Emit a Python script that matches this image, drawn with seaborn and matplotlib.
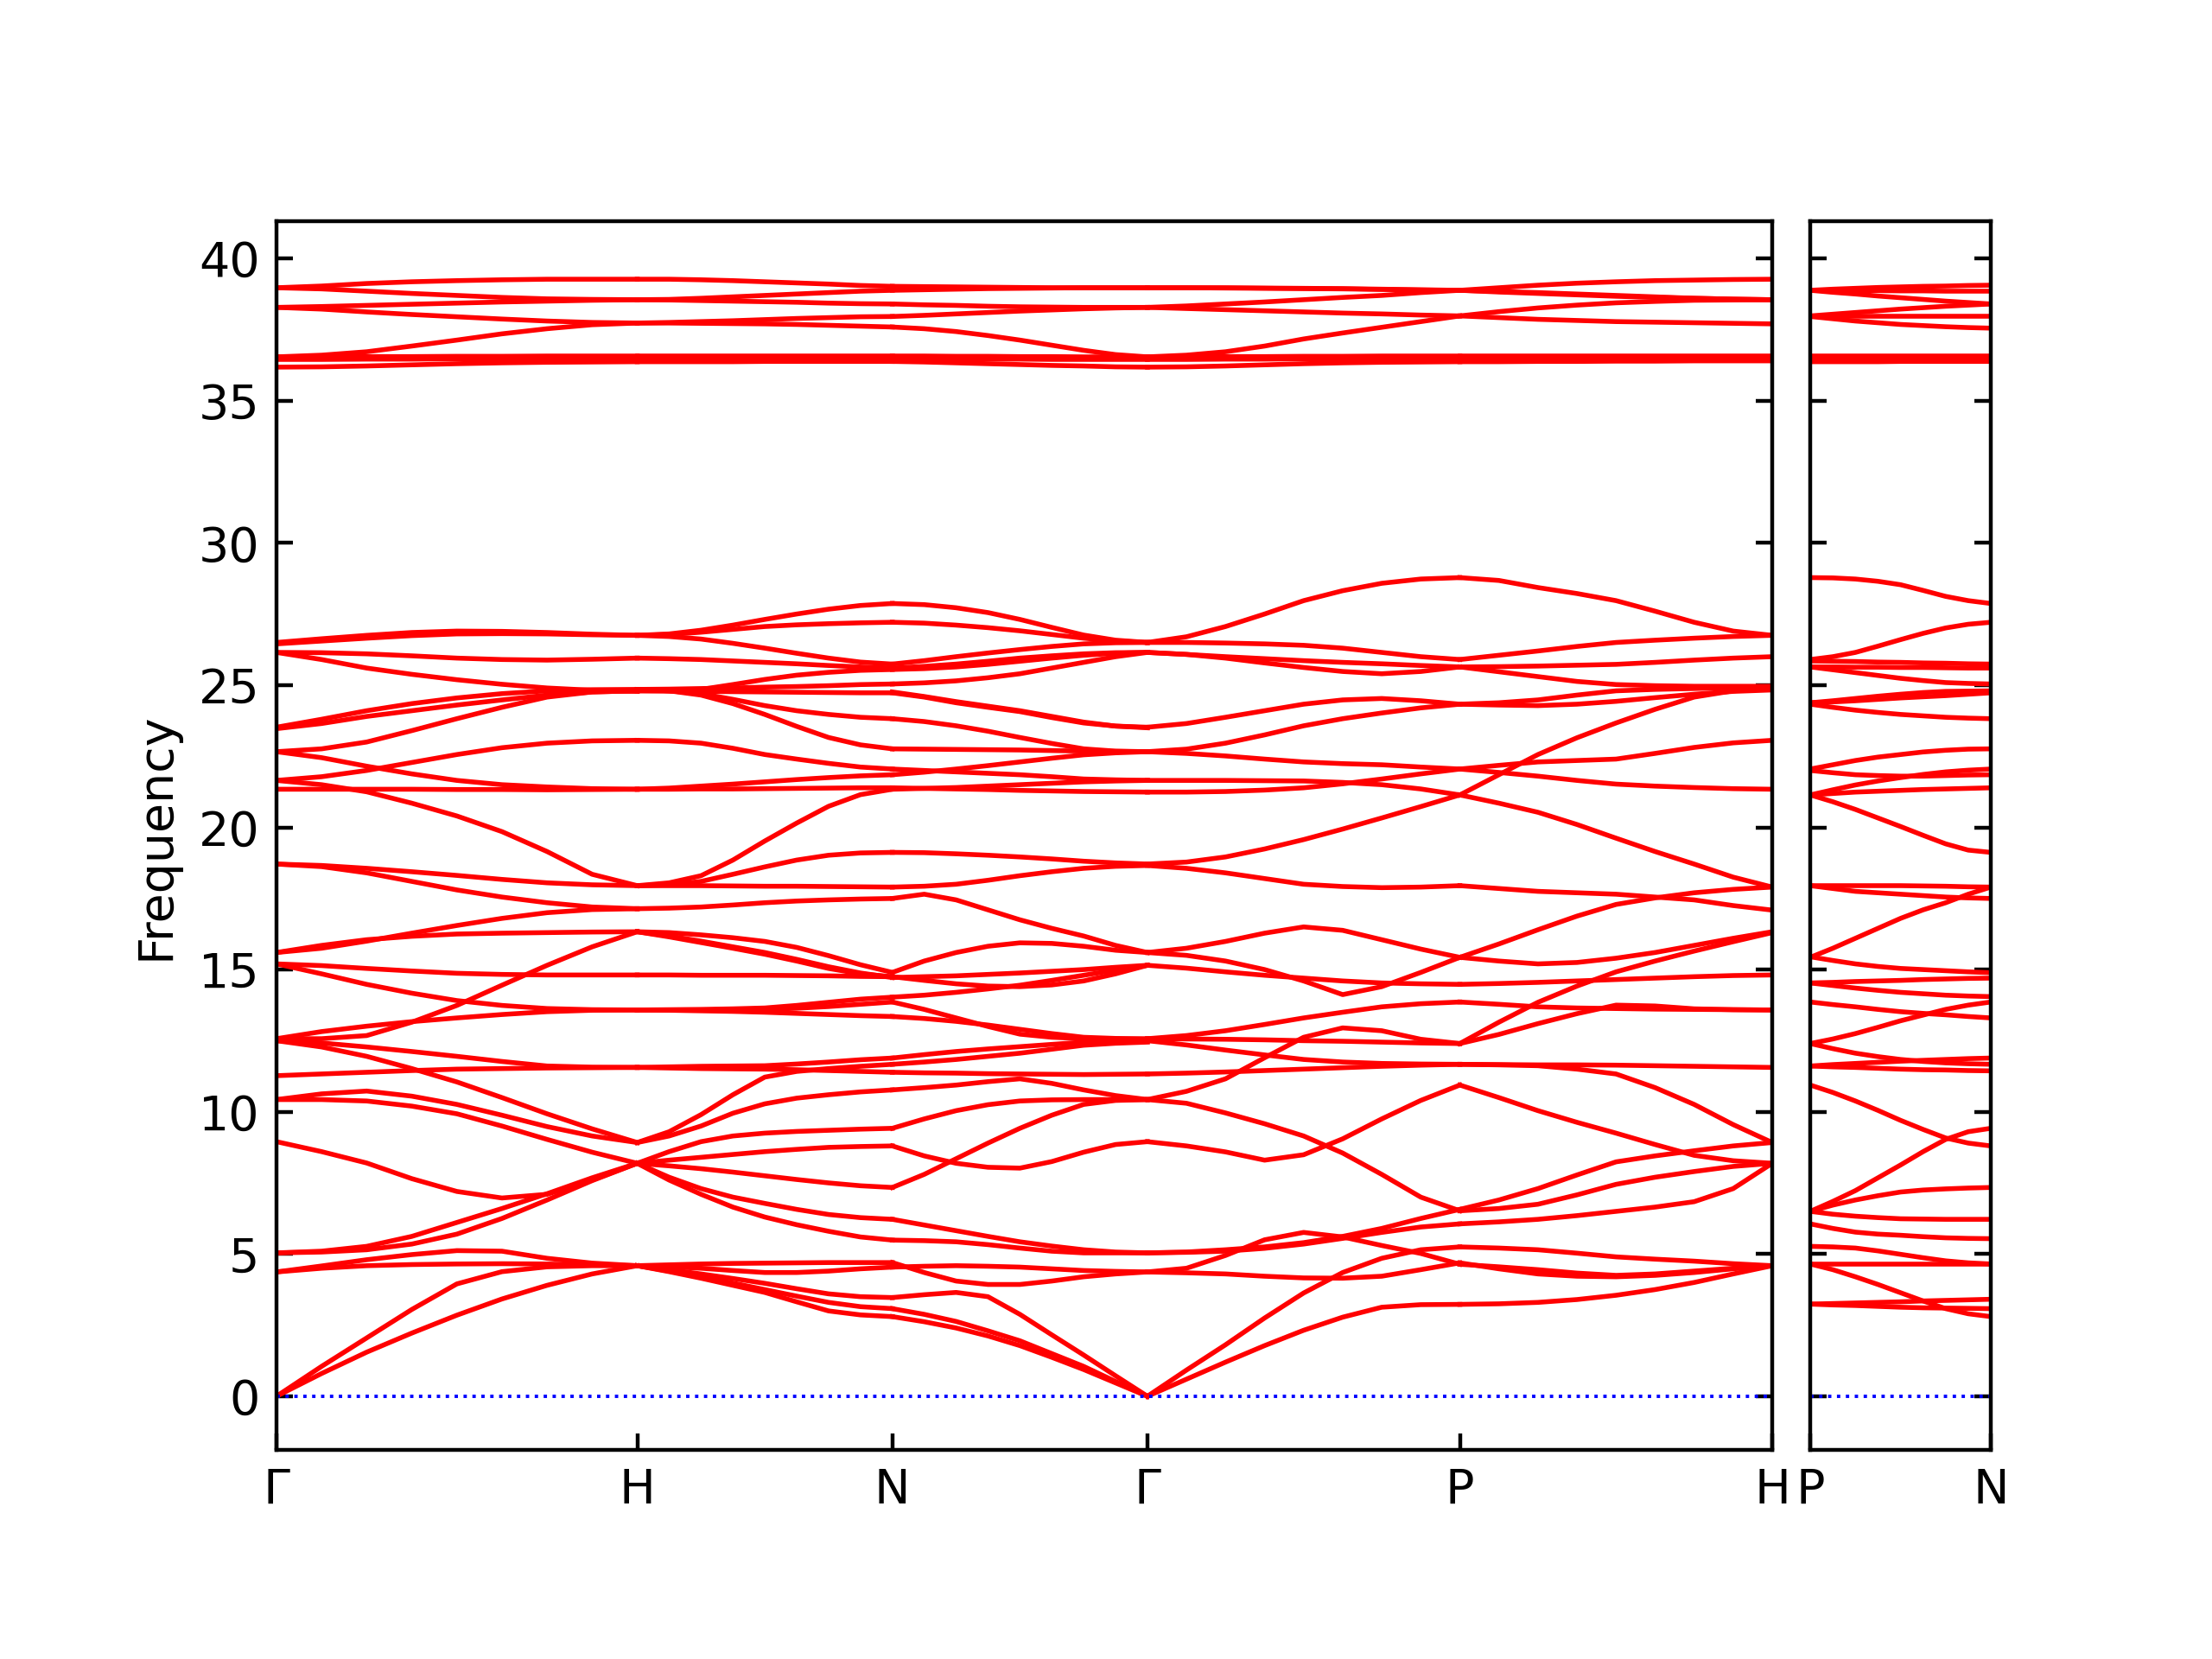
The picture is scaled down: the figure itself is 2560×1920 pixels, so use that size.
import pandas as pd
import seaborn as sns
import matplotlib
matplotlib.use("Agg")
import matplotlib.pyplot as plt

# k-path: segment lengths (2pi/a units) and labels
main_seg_len = [1.0, 0.7071, 0.7071, 0.8660, 0.8660]
main_labels = ['Γ', 'H', 'N', 'Γ', 'P', 'H']
side_seg_len = [0.5]
side_labels = ['P', 'N']

# fractional positions along each segment where the bands were read
kfrac = [0.0, 0.125, 0.25, 0.375, 0.5, 0.625, 0.75, 0.875, 1.0]

# band frequencies along Gamma -> H
gamma_h = [
    [38.97, 39.03, 39.12, 39.18, 39.22, 39.25, 39.27, 39.27, 39.27],
    [38.97, 38.93, 38.85, 38.77, 38.70, 38.63, 38.58, 38.56, 38.55],
    [38.28, 38.31, 38.35, 38.39, 38.43, 38.47, 38.50, 38.53, 38.55],
    [38.28, 38.22, 38.12, 38.03, 37.95, 37.87, 37.80, 37.75, 37.73],
    [36.54, 36.60, 36.72, 36.92, 37.13, 37.35, 37.53, 37.67, 37.73],
    [36.54, 36.54, 36.55, 36.55, 36.56, 36.56, 36.57, 36.57, 36.57],
    [36.45, 36.45, 36.46, 36.46, 36.47, 36.47, 36.47, 36.47, 36.47],
    [36.18, 36.19, 36.22, 36.26, 36.30, 36.33, 36.35, 36.36, 36.37],
    [26.50, 26.63, 26.75, 26.85, 26.90, 26.89, 26.85, 26.79, 26.75],
    [26.45, 26.55, 26.65, 26.74, 26.80, 26.81, 26.80, 26.77, 26.75],
    [26.15, 26.14, 26.10, 26.03, 25.95, 25.90, 25.88, 25.91, 25.95],
    [26.15, 25.90, 25.60, 25.38, 25.19, 25.03, 24.90, 24.82, 24.78],
    [23.52, 23.80, 24.10, 24.35, 24.55, 24.70, 24.80, 24.84, 24.85],
    [23.47, 23.65, 23.90, 24.10, 24.30, 24.48, 24.65, 24.76, 24.80],
    [22.66, 22.76, 23.00, 23.40, 23.82, 24.22, 24.58, 24.76, 24.80],
    [22.66, 22.45, 22.15, 21.88, 21.65, 21.50, 21.42, 21.36, 21.34],
    [21.65, 21.78, 22.00, 22.28, 22.56, 22.80, 22.96, 23.04, 23.06],
    [21.65, 21.50, 21.25, 20.85, 20.40, 19.85, 19.15, 18.35, 17.95],
    [21.34, 21.34, 21.34, 21.34, 21.33, 21.33, 21.32, 21.33, 21.34],
    [18.71, 18.66, 18.56, 18.44, 18.31, 18.17, 18.05, 17.98, 17.95],
    [18.71, 18.62, 18.40, 18.10, 17.80, 17.55, 17.35, 17.20, 17.14],
    [15.60, 15.75, 16.00, 16.28, 16.55, 16.80, 17.00, 17.11, 17.14],
    [15.60, 15.85, 16.05, 16.17, 16.25, 16.28, 16.30, 16.32, 16.33],
    [15.20, 15.14, 15.04, 14.95, 14.87, 14.83, 14.81, 14.81, 14.81],
    [15.20, 14.85, 14.48, 14.17, 13.91, 13.74, 13.63, 13.59, 13.58],
    [12.57, 12.57, 12.68, 13.15, 13.74, 14.45, 15.15, 15.80, 16.33],
    [12.57, 12.82, 13.01, 13.17, 13.30, 13.42, 13.52, 13.57, 13.58],
    [12.50, 12.42, 12.28, 12.12, 11.95, 11.77, 11.61, 11.57, 11.56],
    [12.50, 12.28, 11.95, 11.52, 11.05, 10.50, 9.93, 9.40, 8.92],
    [11.27, 11.33, 11.39, 11.45, 11.50, 11.52, 11.54, 11.55, 11.56],
    [10.43, 10.63, 10.73, 10.55, 10.26, 9.88, 9.48, 9.15, 8.92],
    [10.43, 10.43, 10.38, 10.20, 9.93, 9.50, 9.03, 8.58, 8.19],
    [8.95, 8.60, 8.20, 7.65, 7.20, 6.97, 7.10, 7.60, 8.19],
    [5.04, 5.10, 5.27, 5.62, 6.11, 6.60, 7.12, 7.68, 8.19],
    [5.04, 5.07, 5.15, 5.35, 5.70, 6.25, 6.90, 7.58, 8.19],
    [4.37, 4.58, 4.80, 4.98, 5.12, 5.10, 4.85, 4.68, 4.59],
    [4.37, 4.50, 4.59, 4.63, 4.65, 4.66, 4.65, 4.62, 4.59],
    [0.00, 1.05, 2.05, 3.05, 3.95, 4.38, 4.55, 4.59, 4.59],
    [0.00, 0.80, 1.55, 2.22, 2.85, 3.42, 3.90, 4.30, 4.59],
]

# H -> N
h_n = [
    [39.27, 39.27, 39.25, 39.22, 39.18, 39.14, 39.10, 39.05, 39.02],
    [38.55, 38.56, 38.60, 38.65, 38.70, 38.75, 38.80, 38.85, 38.88],
    [38.55, 38.54, 38.52, 38.50, 38.48, 38.46, 38.43, 38.41, 38.40],
    [37.73, 37.75, 37.78, 37.81, 37.85, 37.89, 37.92, 37.95, 37.96],
    [37.73, 37.73, 37.72, 37.71, 37.70, 37.68, 37.65, 37.62, 37.59],
    [36.57, 36.57, 36.57, 36.57, 36.57, 36.57, 36.57, 36.57, 36.57],
    [36.47, 36.47, 36.47, 36.47, 36.47, 36.47, 36.47, 36.47, 36.47],
    [36.37, 36.37, 36.37, 36.37, 36.38, 36.38, 36.38, 36.38, 36.38],
    [26.75, 26.80, 26.93, 27.11, 27.31, 27.50, 27.67, 27.80, 27.87],
    [26.75, 26.78, 26.86, 26.96, 27.06, 27.12, 27.16, 27.19, 27.21],
    [26.75, 26.71, 26.62, 26.47, 26.30, 26.12, 25.95, 25.81, 25.74],
    [25.95, 25.93, 25.90, 25.85, 25.80, 25.75, 25.69, 25.64, 25.60],
    [24.80, 24.80, 24.85, 25.02, 25.20, 25.35, 25.45, 25.52, 25.55],
    [24.85, 24.86, 24.88, 24.90, 24.93, 24.95, 24.98, 25.02, 25.04],
    [24.80, 24.79, 24.78, 24.77, 24.76, 24.75, 24.74, 24.73, 24.73],
    [24.85, 24.80, 24.70, 24.50, 24.28, 24.10, 23.97, 23.87, 23.82],
    [24.85, 24.80, 24.65, 24.35, 23.97, 23.55, 23.16, 22.90, 22.76],
    [23.06, 23.04, 22.96, 22.78, 22.56, 22.40, 22.25, 22.12, 22.05],
    [21.34, 21.38, 21.45, 21.52, 21.60, 21.68, 21.75, 21.81, 21.85],
    [21.34, 21.34, 21.35, 21.35, 21.36, 21.37, 21.38, 21.39, 21.39],
    [17.95, 18.05, 18.30, 18.85, 19.52, 20.15, 20.74, 21.15, 21.34],
    [17.95, 17.98, 18.10, 18.35, 18.61, 18.85, 19.02, 19.10, 19.12],
    [17.95, 17.95, 17.95, 17.94, 17.93, 17.93, 17.92, 17.91, 17.90],
    [17.14, 17.16, 17.20, 17.27, 17.35, 17.41, 17.45, 17.48, 17.50],
    [16.33, 16.30, 16.22, 16.12, 15.99, 15.78, 15.49, 15.17, 14.90],
    [16.33, 16.15, 15.95, 15.75, 15.54, 15.30, 15.04, 14.85, 14.75],
    [16.33, 16.18, 16.00, 15.80, 15.60, 15.36, 15.10, 14.88, 14.72],
    [14.81, 14.81, 14.80, 14.80, 14.80, 14.79, 14.78, 14.76, 14.75],
    [13.58, 13.59, 13.60, 13.62, 13.65, 13.74, 13.85, 13.96, 14.03],
    [13.58, 13.57, 13.55, 13.53, 13.50, 13.46, 13.42, 13.38, 13.35],
    [13.58, 13.58, 13.58, 13.59, 13.60, 13.64, 13.70, 13.78, 13.86],
    [11.56, 11.58, 11.60, 11.61, 11.62, 11.68, 11.75, 11.83, 11.89],
    [11.56, 11.54, 11.52, 11.51, 11.50, 11.48, 11.45, 11.42, 11.39],
    [8.92, 9.30, 9.90, 10.60, 11.22, 11.42, 11.52, 11.60, 11.67],
    [8.92, 9.15, 9.50, 9.95, 10.28, 10.48, 10.60, 10.70, 10.77],
    [8.19, 8.60, 8.95, 9.15, 9.25, 9.31, 9.35, 9.39, 9.42],
    [8.19, 8.30, 8.40, 8.50, 8.60, 8.68, 8.75, 8.78, 8.80],
    [8.19, 8.10, 8.00, 7.88, 7.75, 7.62, 7.50, 7.40, 7.34],
    [8.19, 7.70, 7.30, 7.00, 6.78, 6.57, 6.39, 6.28, 6.22],
    [8.19, 7.60, 7.10, 6.65, 6.30, 6.03, 5.80, 5.60, 5.49],
    [4.59, 4.62, 4.65, 4.67, 4.68, 4.69, 4.70, 4.70, 4.70],
    [4.59, 4.55, 4.50, 4.42, 4.35, 4.35, 4.40, 4.48, 4.54],
    [4.59, 4.45, 4.30, 4.14, 3.97, 3.78, 3.60, 3.50, 3.47],
    [4.59, 4.40, 4.20, 3.98, 3.75, 3.52, 3.30, 3.15, 3.08],
    [4.59, 4.38, 4.15, 3.90, 3.65, 3.32, 3.00, 2.86, 2.80],
]

# N -> Gamma
n_gamma = [
    [39.02, 39.01, 39.00, 38.99, 38.98, 38.97, 38.97, 38.97, 38.97],
    [38.88, 38.90, 38.92, 38.94, 38.95, 38.96, 38.97, 38.97, 38.97],
    [38.40, 38.37, 38.35, 38.32, 38.30, 38.29, 38.28, 38.28, 38.28],
    [37.96, 38.00, 38.05, 38.10, 38.15, 38.19, 38.23, 38.26, 38.28],
    [37.59, 37.53, 37.43, 37.29, 37.13, 36.95, 36.77, 36.62, 36.54],
    [36.57, 36.57, 36.56, 36.56, 36.55, 36.55, 36.54, 36.54, 36.54],
    [36.47, 36.47, 36.46, 36.46, 36.46, 36.45, 36.45, 36.45, 36.45],
    [36.38, 36.36, 36.33, 36.30, 36.27, 36.24, 36.22, 36.19, 36.18],
    [27.87, 27.83, 27.72, 27.55, 27.31, 27.03, 26.76, 26.58, 26.50],
    [27.21, 27.18, 27.11, 27.02, 26.91, 26.78, 26.65, 26.55, 26.50],
    [25.74, 25.86, 26.00, 26.13, 26.25, 26.36, 26.45, 26.49, 26.50],
    [25.60, 25.66, 25.74, 25.84, 25.95, 26.03, 26.10, 26.14, 26.15],
    [25.55, 25.58, 25.64, 25.73, 25.84, 25.95, 26.05, 26.12, 26.15],
    [25.04, 25.08, 25.15, 25.26, 25.40, 25.60, 25.80, 26.00, 26.15],
    [24.73, 24.58, 24.38, 24.22, 24.07, 23.86, 23.67, 23.56, 23.52],
    [24.76, 24.60, 24.42, 24.26, 24.10, 23.90, 23.70, 23.56, 23.50],
    [23.82, 23.72, 23.57, 23.38, 23.16, 22.95, 22.76, 22.68, 22.66],
    [22.76, 22.75, 22.74, 22.73, 22.72, 22.70, 22.68, 22.67, 22.66],
    [22.05, 22.00, 21.95, 21.90, 21.85, 21.78, 21.70, 21.67, 21.65],
    [21.85, 21.94, 22.05, 22.17, 22.30, 22.43, 22.55, 22.62, 22.66],
    [21.39, 21.37, 21.35, 21.33, 21.30, 21.28, 21.26, 21.25, 21.24],
    [21.34, 21.37, 21.40, 21.45, 21.50, 21.55, 21.60, 21.63, 21.65],
    [19.12, 19.11, 19.07, 19.02, 18.96, 18.89, 18.81, 18.75, 18.71],
    [17.90, 17.93, 18.00, 18.14, 18.30, 18.44, 18.56, 18.63, 18.66],
    [17.50, 17.65, 17.45, 17.10, 16.75, 16.45, 16.18, 15.85, 15.60],
    [14.90, 15.30, 15.60, 15.82, 15.94, 15.92, 15.82, 15.68, 15.60],
    [14.75, 14.62, 14.50, 14.42, 14.40, 14.46, 14.60, 14.85, 15.15],
    [14.72, 14.75, 14.78, 14.83, 14.88, 14.94, 15.00, 15.08, 15.15],
    [14.03, 14.10, 14.20, 14.32, 14.45, 14.62, 14.80, 14.98, 15.15],
    [13.86, 13.60, 13.30, 13.00, 12.73, 12.62, 12.57, 12.52, 12.50],
    [13.35, 13.28, 13.18, 13.05, 12.90, 12.75, 12.62, 12.58, 12.57],
    [11.89, 12.01, 12.12, 12.21, 12.29, 12.37, 12.45, 12.48, 12.50],
    [11.67, 11.75, 11.84, 11.95, 12.06, 12.20, 12.34, 12.41, 12.45],
    [11.39, 11.37, 11.36, 11.34, 11.33, 11.32, 11.31, 11.32, 11.33],
    [10.77, 10.85, 10.94, 11.06, 11.16, 11.00, 10.77, 10.57, 10.43],
    [9.42, 9.75, 10.04, 10.25, 10.38, 10.42, 10.43, 10.43, 10.43],
    [8.80, 8.45, 8.19, 8.05, 8.02, 8.25, 8.58, 8.85, 8.95],
    [7.34, 7.80, 8.35, 8.90, 9.42, 9.88, 10.26, 10.40, 10.43],
    [6.22, 6.02, 5.82, 5.62, 5.43, 5.28, 5.15, 5.07, 5.04],
    [5.49, 5.47, 5.43, 5.33, 5.21, 5.10, 5.04, 5.04, 5.04],
    [4.70, 4.35, 4.05, 3.93, 3.93, 4.05, 4.20, 4.30, 4.37],
    [4.54, 4.57, 4.59, 4.57, 4.54, 4.48, 4.42, 4.39, 4.37],
    [3.47, 3.57, 3.65, 3.50, 2.88, 2.16, 1.45, 0.72, 0.00],
    [3.08, 2.88, 2.63, 2.30, 1.95, 1.50, 1.05, 0.52, 0.00],
    [2.80, 2.62, 2.40, 2.12, 1.78, 1.37, 0.94, 0.47, 0.00],
]

# Gamma -> P
gamma_p = [
    [38.97, 38.97, 38.97, 38.96, 38.95, 38.94, 38.92, 38.90, 38.88],
    [38.97, 38.97, 38.96, 38.95, 38.94, 38.93, 38.91, 38.89, 38.88],
    [38.28, 38.33, 38.40, 38.47, 38.55, 38.63, 38.70, 38.80, 38.88],
    [38.28, 38.24, 38.20, 38.16, 38.12, 38.08, 38.05, 38.01, 37.98],
    [36.54, 36.60, 36.72, 36.92, 37.17, 37.38, 37.58, 37.78, 37.98],
    [36.54, 36.54, 36.55, 36.55, 36.56, 36.56, 36.57, 36.57, 36.57],
    [36.45, 36.45, 36.46, 36.46, 36.47, 36.47, 36.47, 36.47, 36.47],
    [36.18, 36.19, 36.22, 36.26, 36.30, 36.33, 36.35, 36.36, 36.37],
    [26.50, 26.70, 27.06, 27.50, 27.97, 28.32, 28.58, 28.73, 28.78],
    [26.50, 26.50, 26.48, 26.45, 26.40, 26.30, 26.15, 26.00, 25.90],
    [26.15, 26.08, 25.95, 25.78, 25.62, 25.48, 25.40, 25.48, 25.64],
    [26.15, 26.08, 26.00, 25.93, 25.86, 25.80, 25.75, 25.69, 25.64],
    [23.52, 23.65, 23.87, 24.10, 24.33, 24.48, 24.53, 24.45, 24.33],
    [22.66, 22.75, 22.96, 23.25, 23.57, 23.82, 24.02, 24.20, 24.33],
    [22.66, 22.60, 22.51, 22.40, 22.30, 22.24, 22.20, 22.12, 22.05],
    [21.65, 21.65, 21.65, 21.64, 21.63, 21.58, 21.50, 21.35, 21.14],
    [21.24, 21.24, 21.26, 21.31, 21.39, 21.53, 21.70, 21.88, 22.05],
    [18.71, 18.78, 18.96, 19.24, 19.57, 19.94, 20.33, 20.73, 21.14],
    [18.66, 18.56, 18.40, 18.20, 18.00, 17.92, 17.88, 17.90, 17.95],
    [15.60, 15.75, 15.99, 16.28, 16.50, 16.38, 16.05, 15.72, 15.43],
    [15.60, 15.50, 15.30, 15.00, 14.60, 14.12, 14.40, 14.90, 15.43],
    [15.15, 15.05, 14.92, 14.80, 14.70, 14.60, 14.53, 14.50, 14.48],
    [12.57, 12.68, 12.85, 13.07, 13.30, 13.50, 13.69, 13.80, 13.86],
    [12.57, 12.56, 12.55, 12.53, 12.50, 12.48, 12.45, 12.42, 12.40],
    [12.50, 12.35, 12.17, 12.00, 11.84, 11.75, 11.70, 11.68, 11.67],
    [11.33, 11.36, 11.40, 11.45, 11.50, 11.55, 11.60, 11.64, 11.67],
    [10.43, 10.72, 11.16, 11.90, 12.62, 12.95, 12.85, 12.55, 12.40],
    [8.95, 8.80, 8.59, 8.30, 8.49, 9.05, 9.75, 10.40, 10.94],
    [10.43, 10.30, 9.96, 9.58, 9.15, 8.55, 7.80, 7.00, 6.52],
    [5.04, 5.06, 5.10, 5.20, 5.35, 5.55, 5.76, 5.95, 6.06],
    [5.04, 5.07, 5.15, 5.25, 5.40, 5.62, 5.90, 6.25, 6.57],
    [4.37, 4.50, 4.95, 5.50, 5.76, 5.60, 5.30, 5.02, 4.64],
    [4.37, 4.34, 4.30, 4.22, 4.16, 4.15, 4.22, 4.45, 4.69],
    [0.00, 0.92, 1.81, 2.75, 3.63, 4.35, 4.85, 5.15, 5.25],
    [0.00, 0.60, 1.20, 1.78, 2.32, 2.78, 3.13, 3.22, 3.23],
]

# P -> H
p_h = [
    [38.88, 38.82, 38.77, 38.72, 38.67, 38.63, 38.60, 38.57, 38.55],
    [38.88, 38.84, 38.80, 38.75, 38.70, 38.65, 38.60, 38.57, 38.55],
    [38.88, 38.97, 39.06, 39.13, 39.18, 39.22, 39.24, 39.26, 39.27],
    [37.98, 37.92, 37.86, 37.82, 37.78, 37.76, 37.74, 37.72, 37.70],
    [37.98, 38.13, 38.26, 38.36, 38.44, 38.49, 38.53, 38.54, 38.55],
    [36.57, 36.57, 36.57, 36.57, 36.57, 36.57, 36.57, 36.57, 36.57],
    [36.47, 36.47, 36.47, 36.47, 36.47, 36.47, 36.47, 36.47, 36.47],
    [36.37, 36.37, 36.38, 36.38, 36.39, 36.39, 36.40, 36.40, 36.40],
    [28.78, 28.68, 28.43, 28.22, 27.97, 27.60, 27.21, 26.90, 26.75],
    [25.90, 26.05, 26.20, 26.36, 26.50, 26.58, 26.65, 26.71, 26.75],
    [25.64, 25.65, 25.67, 25.70, 25.73, 25.80, 25.88, 25.95, 26.00],
    [25.64, 25.47, 25.30, 25.13, 25.02, 24.98, 24.96, 24.96, 24.96],
    [24.33, 24.38, 24.48, 24.65, 24.80, 24.85, 24.88, 24.91, 24.93],
    [24.33, 24.30, 24.28, 24.33, 24.43, 24.56, 24.68, 24.78, 24.83],
    [22.05, 22.18, 22.30, 22.35, 22.40, 22.60, 22.81, 22.97, 23.06],
    [22.05, 21.93, 21.80, 21.65, 21.52, 21.45, 21.40, 21.36, 21.34],
    [21.14, 21.85, 22.56, 23.15, 23.67, 24.15, 24.58, 24.80, 24.90],
    [21.14, 20.85, 20.53, 20.10, 19.62, 19.15, 18.71, 18.25, 17.90],
    [17.95, 17.85, 17.75, 17.70, 17.65, 17.55, 17.45, 17.25, 17.09],
    [15.43, 15.90, 16.40, 16.88, 17.29, 17.52, 17.70, 17.82, 17.90],
    [15.43, 15.30, 15.20, 15.25, 15.40, 15.60, 15.85, 16.10, 16.33],
    [12.40, 13.15, 13.85, 14.42, 14.92, 15.30, 15.65, 15.98, 16.30],
    [14.48, 14.51, 14.55, 14.60, 14.65, 14.70, 14.75, 14.79, 14.81],
    [13.86, 13.78, 13.69, 13.65, 13.63, 13.61, 13.60, 13.59, 13.58],
    [12.40, 12.72, 13.10, 13.45, 13.75, 13.72, 13.62, 13.59, 13.58],
    [11.67, 11.66, 11.65, 11.65, 11.64, 11.62, 11.60, 11.58, 11.56],
    [11.67, 11.65, 11.62, 11.50, 11.33, 10.85, 10.26, 9.55, 8.92],
    [10.94, 10.50, 10.04, 9.63, 9.25, 8.85, 8.47, 8.28, 8.19],
    [6.57, 6.90, 7.30, 7.78, 8.24, 8.45, 8.63, 8.80, 8.92],
    [6.52, 6.60, 6.75, 7.08, 7.45, 7.70, 7.90, 8.08, 8.19],
    [6.06, 6.13, 6.22, 6.35, 6.50, 6.65, 6.84, 7.30, 8.19],
    [5.25, 5.21, 5.15, 5.03, 4.90, 4.82, 4.75, 4.66, 4.59],
    [4.69, 4.48, 4.30, 4.22, 4.20, 4.25, 4.35, 4.48, 4.59],
    [4.64, 4.55, 4.45, 4.33, 4.25, 4.30, 4.40, 4.50, 4.59],
    [3.23, 3.25, 3.30, 3.40, 3.55, 3.75, 4.00, 4.30, 4.59],
]

# P -> N (second panel)
p_n = [
    [38.88, 38.92, 38.95, 38.98, 39.00, 39.02, 39.03, 39.05, 39.06],
    [38.88, 38.81, 38.75, 38.68, 38.62, 38.56, 38.50, 38.45, 38.40],
    [38.88, 38.88, 38.87, 38.87, 38.86, 38.86, 38.85, 38.85, 38.85],
    [37.98, 38.04, 38.10, 38.16, 38.22, 38.27, 38.32, 38.36, 38.40],
    [37.98, 37.98, 37.98, 37.98, 37.98, 37.98, 37.98, 37.98, 37.98],
    [37.96, 37.88, 37.80, 37.74, 37.68, 37.64, 37.60, 37.57, 37.55],
    [36.57, 36.57, 36.57, 36.57, 36.57, 36.57, 36.57, 36.57, 36.57],
    [36.47, 36.47, 36.47, 36.47, 36.47, 36.47, 36.47, 36.47, 36.47],
    [36.37, 36.37, 36.37, 36.37, 36.38, 36.38, 36.38, 36.38, 36.38],
    [28.78, 28.77, 28.73, 28.65, 28.53, 28.33, 28.12, 27.97, 27.87],
    [25.90, 26.00, 26.15, 26.37, 26.60, 26.82, 27.01, 27.14, 27.21],
    [25.85, 25.84, 25.83, 25.81, 25.80, 25.78, 25.77, 25.75, 25.74],
    [25.64, 25.64, 25.63, 25.63, 25.62, 25.62, 25.61, 25.60, 25.60],
    [25.64, 25.54, 25.44, 25.34, 25.24, 25.16, 25.09, 25.06, 25.04],
    [24.38, 24.45, 24.53, 24.61, 24.68, 24.74, 24.78, 24.79, 24.80],
    [24.38, 24.41, 24.45, 24.50, 24.55, 24.59, 24.63, 24.68, 24.73],
    [24.33, 24.22, 24.12, 24.04, 23.97, 23.92, 23.87, 23.84, 23.82],
    [22.05, 22.20, 22.35, 22.47, 22.56, 22.65, 22.71, 22.75, 22.76],
    [22.00, 21.92, 21.85, 21.82, 21.80, 21.80, 21.82, 21.84, 21.85],
    [21.14, 21.32, 21.49, 21.63, 21.75, 21.86, 21.95, 22.01, 22.05],
    [21.14, 21.19, 21.24, 21.27, 21.30, 21.33, 21.35, 21.37, 21.39],
    [21.14, 20.90, 20.63, 20.33, 20.03, 19.72, 19.42, 19.20, 19.12],
    [17.95, 17.95, 17.95, 17.95, 17.95, 17.94, 17.93, 17.91, 17.90],
    [17.95, 17.85, 17.75, 17.70, 17.65, 17.60, 17.55, 17.52, 17.50],
    [15.43, 15.75, 16.10, 16.45, 16.80, 17.10, 17.35, 17.65, 17.90],
    [15.45, 15.32, 15.20, 15.11, 15.04, 15.00, 14.96, 14.92, 14.89],
    [14.53, 14.55, 14.58, 14.60, 14.62, 14.65, 14.67, 14.69, 14.70],
    [14.53, 14.44, 14.35, 14.27, 14.20, 14.15, 14.10, 14.07, 14.05],
    [13.86, 13.77, 13.69, 13.60, 13.52, 13.46, 13.41, 13.35, 13.30],
    [12.40, 12.56, 12.75, 12.97, 13.20, 13.40, 13.60, 13.75, 13.86],
    [12.40, 12.22, 12.06, 11.94, 11.84, 11.77, 11.72, 11.69, 11.67],
    [11.61, 11.66, 11.70, 11.74, 11.78, 11.81, 11.84, 11.87, 11.89],
    [11.61, 11.58, 11.56, 11.53, 11.50, 11.48, 11.47, 11.45, 11.44],
    [10.94, 10.68, 10.38, 10.05, 9.70, 9.38, 9.08, 8.90, 8.80],
    [6.50, 6.85, 7.23, 7.68, 8.13, 8.60, 9.03, 9.30, 9.42],
    [6.50, 6.72, 6.90, 7.05, 7.18, 7.25, 7.29, 7.32, 7.34],
    [6.50, 6.40, 6.33, 6.28, 6.24, 6.23, 6.22, 6.22, 6.22],
    [6.06, 5.90, 5.77, 5.70, 5.66, 5.61, 5.57, 5.55, 5.54],
    [5.27, 5.25, 5.21, 5.11, 4.99, 4.87, 4.76, 4.69, 4.65],
    [4.65, 4.65, 4.65, 4.65, 4.65, 4.65, 4.65, 4.65, 4.65],
    [4.65, 4.45, 4.20, 3.93, 3.64, 3.35, 3.08, 2.90, 2.80],
    [3.24, 3.26, 3.28, 3.30, 3.32, 3.35, 3.37, 3.39, 3.41],
    [3.24, 3.21, 3.19, 3.16, 3.13, 3.11, 3.10, 3.09, 3.08],
]


def path_ticks(seg_len):
    pos = [0.0]
    for s in seg_len:
        pos.append(pos[-1] + s)
    return pos


def to_frame(segments, ticks):
    """long-format frame: one unit per band line per segment"""
    rows = []
    for si, seg in enumerate(segments):
        x0, x1 = ticks[si], ticks[si + 1]
        for bi, band in enumerate(seg):
            for f, v in zip(kfrac, band):
                rows.append({'q': x0 + f * (x1 - x0), 'freq': v,
                             'line': '%d_%d' % (si, bi)})
    return pd.DataFrame(rows)


main_ticks = path_ticks(main_seg_len)
side_ticks = path_ticks(side_seg_len)
df_main = to_frame([gamma_h, h_n, n_gamma, gamma_p, p_h], main_ticks)
df_side = to_frame([p_n], side_ticks)

fig = plt.figure(figsize=(6.4, 4.8), dpi=400)
ax1 = fig.add_axes([0.125, 0.1258, 0.6762, 0.7407])
ax2 = fig.add_axes([0.8184, 0.1258, 0.0816, 0.7407])

for ax, d, ticks, labels in [(ax1, df_main, main_ticks, main_labels),
                             (ax2, df_side, side_ticks, side_labels)]:
    sns.lineplot(data=d, x='q', y='freq', units='line', estimator=None,
                 color='red', linewidth=1.0, legend=False, ax=ax)
    ax.axhline(0, color='b', linestyle=':', linewidth=0.7)
    ax.set_xlim(ticks[0], ticks[-1])
    ax.set_ylim(-1.9, 41.3)
    ax.set_xticks(ticks)
    ax.set_xticklabels(labels)
    ax.set_yticks(range(0, 41, 5))
    ax.tick_params(direction='in', left=True, right=True, top=False)
    ax.set_xlabel('')
    ax.set_ylabel('')

ax1.set_ylabel('Frequency')
ax2.set_yticklabels([])

fig.savefig('out.png', dpi=400)
